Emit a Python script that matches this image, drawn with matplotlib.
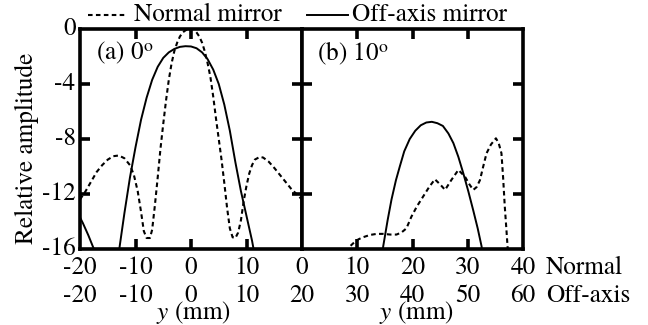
import matplotlib
matplotlib.use("Agg")
import matplotlib.pyplot as plt
from matplotlib.transforms import blended_transform_factory

plt.rcParams['font.family'] = ['TeX Gyre Termes', 'Liberation Serif', 'DejaVu Serif']
plt.rcParams['mathtext.fontset'] = 'custom'
plt.rcParams['mathtext.rm'] = 'TeX Gyre Termes'
plt.rcParams['mathtext.it'] = 'TeX Gyre Termes:italic'

FS = 18.2

# ---- data: panel (a) 0 deg (x in mm, same for both mirrors) ----
a_normal_x = [-20, -19, -18, -17, -16, -15, -14, -13, -12, -11, -10.3, -9.6, -9, -8.5, -8,
              -7.4, -7, -6.5, -6, -5.5, -5, -4.5, -4, -3.5, -3, -2.5, -2, -1.5, -1, -0.5, 0,
              0.5, 1, 1.5, 2, 2.5, 3, 3.5, 4, 4.5, 5, 5.5, 6, 6.5, 7, 7.5, 8, 8.5, 9, 9.5,
              10, 10.5, 11, 11.5, 12.4, 13, 14, 15, 16, 17, 18, 19, 20]
a_normal_y = [-12.4, -11.8, -11.1, -10.4, -9.9, -9.5, -9.25, -9.2, -9.4, -9.9, -10.6, -11.8,
              -13.3, -14.7, -15.2, -15.2, -14.6, -12.8, -10.8, -8.7, -6.9, -5.2, -3.7, -2.5,
              -1.6, -1.0, -0.55, -0.25, -0.1, 0.0, 0.05,
              0.0, -0.25, -0.55, -1.0, -1.65, -2.5, -3.5, -4.9, -6.5, -8.0, -9.5, -11.2,
              -13.0, -14.5, -15.15, -15.2, -14.8, -13.9, -12.5, -11.4, -10.5, -9.9, -9.5,
              -9.3, -9.35, -9.65, -10.1, -10.6, -11.1, -11.6, -12.0, -12.4]
a_off_x1 = [-20, -19.5, -19, -18.5, -18, -17.5, -17.2]
a_off_y1 = [-13.7, -14.1, -14.55, -15.0, -15.5, -16.0, -16.4]
a_off_x2 = [-13.1, -12.85, -12, -11, -10, -9, -8, -7, -6, -5, -4, -3, -2, -1, 0, 1, 2, 3,
            4, 5, 6, 7, 8, 9, 10, 11, 11.5]
a_off_y2 = [-16.6, -15.8, -13.4, -10.8, -8.6, -6.6, -5.0, -3.7, -2.75, -2.1, -1.7, -1.45,
            -1.3, -1.25, -1.27, -1.4, -1.7, -2.2, -2.95, -4.0, -5.5, -7.4, -9.7, -11.8,
            -13.6, -15.4, -16.5]

# ---- data: panel (b) 10 deg ----
# normal mirror, x in normal-mirror coordinates (0..40 mm)
b_normal_x = [8.3, 8.7, 9.5, 10.2, 11, 12.3, 13.5, 14.7, 16, 17.1, 18, 18.9, 19.8, 20.8,
              21.9, 23, 24.05, 25, 25.9, 27, 28.3, 29.5, 30.3, 31.0, 31.6, 32.2, 32.8,
              33.4, 34.2, 35.1, 35.6, 36.1, 36.4, 36.7, 37.0, 37.2, 37.4]
b_normal_y = [-16.3, -15.8, -15.5, -15.3, -15.15, -14.98, -14.9, -14.9, -14.95, -14.95,
              -14.8, -14.5, -13.65, -12.9, -12.2, -11.5, -10.93, -11.3, -11.7, -11.0,
              -10.25, -10.74, -11.3, -11.7, -11.5, -11.0, -10.0, -9.04, -8.4, -7.95, -8.3,
              -9.04, -10.8, -12.9, -14.6, -15.8, -16.5]
# off-axis mirror, x in off-axis coordinates (20..60 mm)
b_off_x = [34.5, 34.7, 35.5, 36.2, 37, 37.7, 38.5, 39.5, 40.5, 41.5, 42.5, 43.5, 44.5,
           45.5, 46.5, 47.4, 48.3, 49.2, 50.1, 51.0, 51.8, 52.5, 52.7]
b_off_y = [-16.5, -15.8, -13.9, -12.4, -11.0, -10.0, -8.9, -8.0, -7.4, -7.0, -6.8, -6.75,
           -6.85, -7.05, -7.6, -8.3, -9.3, -10.5, -11.8, -13.2, -14.5, -15.8, -16.4]
b_off_offset = 20

# tick labels
a_row1 = [-20, -10, 0, 10]
a_row2 = [-20, -10, 0, 10, 20]
b_row1 = [0, 10, 20, 30, 40]
b_row2 = [30, 40, 50, 60]
y_ticks = [0, -4, -8, -12, -16]

W, H = 648, 325
fig = plt.figure(figsize=(W / 100, H / 100), dpi=100)
ax1 = fig.add_axes([80 / W, (H - 249) / H, 222 / W, 220 / H])
ax2 = fig.add_axes([302 / W, (H - 249) / H, 221 / W, 220 / H])

dash = (0, (2.2, 1.6))
lw_s = 1.4
lw_d = 1.5

ax1.plot(a_normal_x, a_normal_y, color='black', lw=lw_d, linestyle=dash)
ax1.plot(a_off_x1, a_off_y1, color='black', lw=lw_s)
ax1.plot(a_off_x2, a_off_y2, color='black', lw=lw_s)
ax2.plot(b_normal_x, b_normal_y, color='black', lw=lw_d, linestyle=dash)
ax2.plot([x - b_off_offset for x in b_off_x], b_off_y, color='black', lw=lw_s)

ax1.set_xlim(-20, 20)
ax2.set_xlim(0, 40)
for ax in (ax1, ax2):
    ax.set_ylim(-16, 0)
    for s in ax.spines.values():
        s.set_linewidth(2.6)
    ax.tick_params(which='both', direction='in', length=7, width=2.6,
                   top=True, bottom=True, left=True, right=True,
                   labelbottom=False, labelleft=False)

ax1.set_xticks([-10, 0, 10])
ax2.set_xticks([10, 20, 30])
ax1.set_yticks(y_ticks[1:-1])
ax2.set_yticks(y_ticks[1:-1])

# y tick labels
for v in y_ticks:
    ax1.text(-0.02, v, str(v), transform=blended_transform_factory(ax1.transAxes, ax1.transData),
             ha='right', va='center', fontsize=FS)

# x tick label rows
def rows(ax, r1, r2, r2pos, xlab_pos):
    tr = blended_transform_factory(ax.transData, fig.transFigure)
    for v in r1:
        ax.text(v, (H - 268) / H, str(v), transform=tr, ha='center', va='center', fontsize=FS)
    for v, p in zip(r2, r2pos):
        ax.text(p, (H - 296) / H, str(v), transform=tr, ha='center', va='center', fontsize=FS)
    fig.text(xlab_pos / W, (H - 313) / H, '$y$ (mm)', ha='center', va='center', fontsize=FS)

rows(ax1, a_row1, a_row2, a_row2, 193)
rows(ax2, b_row1, b_row2, [v - b_off_offset for v in b_row2], 416)

fig.text(546 / W, (H - 268) / H, 'Normal', ha='left', va='center', fontsize=FS)
fig.text(546 / W, (H - 296) / H, 'Off-axis', ha='left', va='center', fontsize=FS)

# panel labels
ax1.text(0.07, 0.89, '(a) 0$^{\\rm o}$', transform=ax1.transAxes, ha='left', va='center', fontsize=FS)
ax2.text(0.07, 0.89, '(b) 10$^{\\rm o}$', transform=ax2.transAxes, ha='left', va='center', fontsize=FS)

# y label
fig.text(27 / W, (H - 148) / H, 'Relative amplitude', rotation=90, ha='center', va='center',
         fontsize=FS)

# legend
ly = (H - 15) / H
fig.add_artist(plt.Line2D([88 / W, 125 / W], [ly, ly], color='black', lw=lw_d, linestyle=dash))
fig.text(134 / W, ly, 'Normal mirror', ha='left', va='center', fontsize=FS)
fig.add_artist(plt.Line2D([307 / W, 348 / W], [ly, ly], color='black', lw=lw_s))
fig.text(352 / W, ly, 'Off-axis mirror', ha='left', va='center', fontsize=FS)

fig.savefig('out.png', dpi=100)
